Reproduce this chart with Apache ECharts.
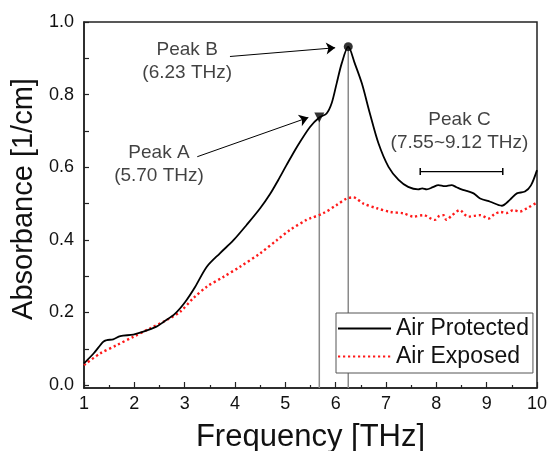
<!DOCTYPE html>
<html>
<head>
<meta charset="utf-8">
<script src="https://cdn.jsdelivr.net/npm/echarts@6/dist/echarts.min.js"></script>
<style>html,body{margin:0;padding:0;background:#fff}#c{width:547px;height:451px}</style>
</head>
<body>
<div id="c"></div>
<script>
// ---- Data ----
const protFreq = [1.00,1.19,1.38,1.45,1.58,1.72,1.98,2.18,2.44,2.58,2.81,3.01,3.21,3.44,3.70,3.97,4.23,4.50,4.70,4.86,5.02,5.23,5.49,5.675,5.82,5.92,6.02,6.12,6.25,6.38,6.52,6.68,6.85,7.05,7.25,7.44,7.64,7.72,7.81,7.93,8.04,8.17,8.30,8.40,8.50,8.62,8.74,8.87,9.07,9.30,9.46,9.60,9.76,9.88,10.00];
const protAbs  = [0.060,0.087,0.119,0.124,0.126,0.135,0.139,0.147,0.161,0.174,0.197,0.229,0.271,0.326,0.363,0.399,0.441,0.487,0.527,0.565,0.605,0.656,0.711,0.737,0.748,0.776,0.831,0.886,0.932,0.886,0.831,0.748,0.666,0.601,0.565,0.546,0.539,0.542,0.539,0.545,0.551,0.548,0.551,0.545,0.539,0.534,0.528,0.514,0.505,0.494,0.510,0.528,0.533,0.550,0.592];
const expFreq  = [1.00,1.32,1.65,1.98,2.31,2.64,2.91,3.17,3.44,3.77,4.10,4.50,4.83,5.09,5.42,5.49,5.75,6.02,6.22,6.35,6.55,6.82,7.08,7.35,7.54,7.74,7.97,8.06,8.14,8.20,8.30,8.47,8.56,8.64,8.75,8.87,9.04,9.15,9.27,9.40,9.53,9.66,9.80,10.00];
const expAbs   = [0.055,0.087,0.110,0.133,0.156,0.179,0.202,0.239,0.271,0.298,0.326,0.363,0.399,0.427,0.455,0.459,0.473,0.496,0.514,0.517,0.500,0.487,0.477,0.473,0.464,0.468,0.455,0.466,0.468,0.455,0.466,0.482,0.470,0.464,0.466,0.468,0.459,0.470,0.477,0.474,0.482,0.478,0.487,0.503];
const seriesNames = ['Air Protected','Air Exposed'];
const xTicks = [1,2,3,4,5,6,7,8,9,10];
const yLabels = [0,0.2,0.4,0.6,0.8,1.0];
const yTicks = [0,0.1,0.2,0.3,0.4,0.5,0.6,0.7,0.8,0.9,1.0];
const peakAPoint = [5.675,0.737];
const peakBPoint = [6.25,0.932];
const peakAArrow = [[3.25,0.629],[5.457,0.737]];
const peakBArrow = [[3.90,0.905],[5.99,0.929]];
const peakCRange = [[7.68,0.588],[9.32,0.588]];
const noteX = [3.05,2.49,8.46];
const noteY = [0.893,0.609,0.699];
const noteText = ['Peak B\n(6.23 THz)','Peak A\n(5.70 THz)','Peak C\n(7.55~9.12 THz)'];
const yMin = -0.008, yMax = 1.0;

const zip = (a,b) => a.map((v,i)=>[v,b[i]]);
const FONT = 'Liberation Sans, Arial, sans-serif';

const chart = echarts.init(document.getElementById('c'), null, {renderer:'canvas'});
chart.setOption({
  animation:false,
  backgroundColor:'#fff',
  textStyle:{fontFamily:FONT},
  grid:{left:84,right:10,top:22,bottom:63,show:true,borderColor:'#222',borderWidth:1.5,backgroundColor:'transparent',outerBoundsMode:'none',containLabel:false},
  legend:{
    data:seriesNames, orient:'vertical', left:336, top:313,
    backgroundColor:'#fff', borderColor:'#555', borderWidth:1,
    padding:[4,4,5,1], itemWidth:53, itemHeight:14, itemGap:5,
    itemStyle:{opacity:0}, lineStyle:{opacity:1},
    textStyle:{fontSize:23,color:'#111',fontFamily:FONT}
  },
  xAxis:{
    type:'value', min:xTicks[0], max:xTicks[xTicks.length-1], interval:1,
    name:'Frequency [THz]', nameLocation:'middle', nameGap:34,
    nameTextStyle:{fontSize:31,color:'#111',fontFamily:FONT},
    axisLine:{onZero:false,lineStyle:{color:'#222',width:1.5}},
    axisTick:{inside:true,length:6,lineStyle:{color:'#222',width:1.2}},
    minorTick:{show:true,splitNumber:2,length:3,lineStyle:{color:'#222',width:1.2}},
    axisLabel:{fontSize:18,color:'#111',margin:7,fontFamily:FONT},
    splitLine:{show:false}
  },
  yAxis:{
    type:'value', min:yMin, max:yMax,
    name:'Absorbance [1/cm]', nameLocation:'middle', nameGap:45,
    nameTextStyle:{fontSize:29,color:'#111',fontFamily:FONT,padding:[0,0,0,12]},
    axisLine:{onZero:false,lineStyle:{color:'#222',width:1.5}},
    axisTick:{inside:true,length:5,customValues:yTicks,lineStyle:{color:'#222',width:1.2}},
    axisLabel:{fontSize:18,color:'#111',margin:10,customValues:yLabels,formatter:v=>Number(v).toFixed(1),fontFamily:FONT},
    splitLine:{show:false}
  },
  series:[
    {type:'line',name:'guideA',data:[[peakAPoint[0],yMin],peakAPoint],symbol:'none',silent:true,
     lineStyle:{color:'#8a8a8a',width:1.5},z:1},
    {type:'line',name:'guideB',data:[[peakBPoint[0],yMin],peakBPoint],symbol:'none',silent:true,
     lineStyle:{color:'#8a8a8a',width:1.5},z:1},
    {type:'line',name:seriesNames[1],data:zip(expFreq,expAbs),symbol:'none',smooth:0.3,
     lineStyle:{color:'#ff1a1a',width:2.4,type:[2.2,2.8]},itemStyle:{color:'#ff1a1a'},z:2},
    {type:'line',name:seriesNames[0],data:zip(protFreq,protAbs),symbol:'none',smooth:0.3,
     lineStyle:{color:'#000',width:1.8},itemStyle:{color:'#000'},z:3,
     markLine:{silent:true,symbol:['none','arrow'],symbolSize:9,label:{show:false},
       lineStyle:{color:'#000',width:1,type:'solid'},
       data:[[{coord:peakAArrow[0]},{coord:peakAArrow[1]}],[{coord:peakBArrow[0]},{coord:peakBArrow[1]}]]}},
    {type:'scatter',name:'peakA',data:[peakAPoint],symbol:'triangle',symbolRotate:180,symbolSize:10,
     itemStyle:{color:'#000'},z:4,silent:true},
    {type:'scatter',name:'peakB',data:[peakBPoint],symbol:'circle',symbolSize:9,
     itemStyle:{color:'#000'},z:4,silent:true},
    {type:'line',name:'peakC',data:peakCRange,symbol:'rect',symbolSize:[1.5,7],showSymbol:true,
     lineStyle:{color:'#000',width:1.3},itemStyle:{color:'#000'},z:4,silent:true},
    {type:'scatter',name:'notes',symbolSize:0,silent:true,z:5,
     data:noteX.map((x,i)=>({value:[x,noteY[i]],label:{formatter:noteText[i]}})),
     label:{show:true,position:'inside',fontSize:19,lineHeight:23,color:'#111',fontFamily:FONT,align:'center',verticalAlign:'middle'}}
  ]
});
</script>
</body>
</html>
